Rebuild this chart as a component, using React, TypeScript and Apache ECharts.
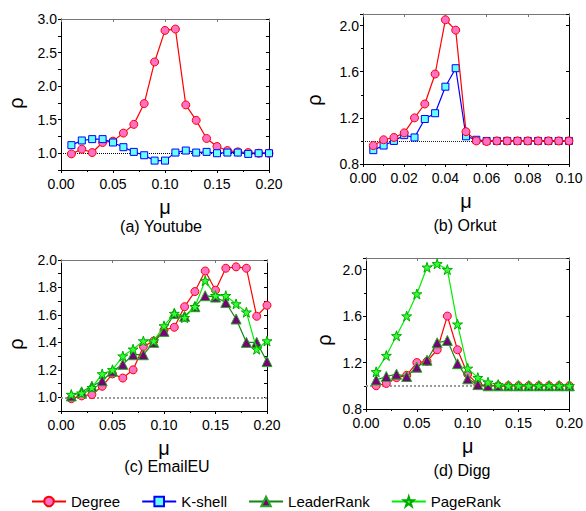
import React, { useEffect, useRef } from "react";
import * as echarts from "echarts";

// ---------- data ----------
const muStd = [0.01, 0.02, 0.03, 0.04, 0.05, 0.06, 0.07, 0.08, 0.09, 0.1, 0.11, 0.12, 0.13, 0.14, 0.15, 0.16, 0.17, 0.18, 0.19, 0.2];
const muOrkut = [0.005, 0.01, 0.015, 0.02, 0.025, 0.03, 0.035, 0.04, 0.045, 0.05, 0.055, 0.06, 0.065, 0.07, 0.075, 0.08, 0.085, 0.09, 0.095, 0.1];

const youtubeDegree = [0.99, 1.06, 1.01, 1.16, 1.18, 1.3, 1.43, 1.74, 2.36, 2.83, 2.85, 1.72, 1.49, 1.22, 1.1, 1.04, 1.02, 1.01, 1.0, 1.0];
const youtubeKshell = [1.12, 1.19, 1.21, 1.21, 1.16, 1.09, 1.02, 0.97, 0.89, 0.89, 1.01, 1.04, 1.01, 1.02, 1.0, 1.01, 1.01, 0.99, 1.0, 1.0];

const orkutDegree = [0.96, 1.01, 1.03, 1.07, 1.2, 1.32, 1.58, 2.05, 1.96, 1.08, 1.0, 0.995, 1.0, 1.0, 1.0, 1.0, 1.0, 1.0, 1.0, 1.0];
const orkutKshell = [0.92, 0.96, 1.0, 1.05, 1.03, 1.19, 1.24, 1.47, 1.63, 1.04, 1.01, 1.0, 1.0, 1.0, 1.0, 1.0, 1.0, 1.0, 1.0, 1.0];

const emailDegree = [0.99, 1.01, 1.02, 1.08, 1.17, 1.14, 1.2, 1.37, 1.41, 1.49, 1.51, 1.66, 1.77, 1.92, 1.78, 1.94, 1.95, 1.94, 1.59, 1.67];
const emailLeader = [1.01, 1.04, 1.08, 1.12, 1.19, 1.24, 1.31, 1.31, 1.4, 1.48, 1.61, 1.59, 1.66, 1.74, 1.73, 1.69, 1.57, 1.4, 1.4, 1.26];
const emailPage = [1.02, 1.03, 1.07, 1.17, 1.2, 1.3, 1.35, 1.41, 1.41, 1.52, 1.61, 1.58, 1.66, 1.85, 1.74, 1.74, 1.68, 1.62, 1.35, 1.41];

const diggDegree = [1.0, 1.02, 1.07, 1.09, 1.2, 1.21, 1.31, 1.6, 1.31, 1.1, 1.01, 1.0, 1.0, 1.0, 1.0, 1.0, 1.0, 1.0, 1.0, 1.0];
const diggLeader = [1.05, 1.08, 1.1, 1.08, 1.16, 1.22, 1.37, 1.39, 1.19, 1.06, 1.01, 1.0, 1.0, 1.0, 1.0, 1.0, 1.0, 1.0, 1.0, 1.0];
const diggPage = [1.12, 1.26, 1.43, 1.6, 1.79, 2.02, 2.05, 2.0, 1.53, 1.15, 1.07, 1.03, 1.01, 1.0, 1.0, 1.0, 1.0, 1.0, 1.0, 1.0];

const seriesNames = ["Degree", "K-shell", "LeaderRank", "PageRank"];
const panelTitles = ["(a) Youtube", "(b) Orkut", "(c) EmailEU", "(d) Digg"];

// ---------- styling ----------
const FONT = "Liberation Sans, Arial, sans-serif";
const STAR =
  "path://M0,-1L0.2245,-0.309L0.951,-0.309L0.363,0.118L0.588,0.809L0,0.382L-0.588,0.809L-0.363,0.118L-0.951,-0.309L-0.2245,-0.309Z";

const STYLE: Record<string, any> = {
  Degree: { symbol: "circle", size: 8, line: "#ff0000", fill: "#ff70c8", border: "#ff0000" },
  "K-shell": { symbol: "rect", size: 7, line: "#0000ff", fill: "#66ffff", border: "#0000ff" },
  LeaderRank: { symbol: "triangle", size: 10, line: "#118811", fill: "#7a007a", border: "#22aa22" },
  PageRank: { symbol: STAR, size: 10, line: "#00ee00", fill: "#33ff33", border: "#00aa00" },
};

type Panel = {
  grid: { left: number; top: number; width: number; height: number };
  xMin: number; xMax: number; xStep: number;
  yMin: number; yMax: number; yStep: number; yLabelBase: number; yLabelStep: number;
  yMinor: boolean;
  rho: { x: number; y: number };
  refColor: string; refWidth: number;
  title: { x: number; y: number };
  series: { name: string; xs: number[]; ys: number[] }[];
};

const panels: Panel[] = [
  {
    grid: { left: 61, top: 19, width: 208, height: 151 },
    xMin: 0, xMax: 0.2, xStep: 0.05,
    yMin: 0.75, yMax: 3.0, yStep: 0.25, yLabelBase: 1.0, yLabelStep: 0.5, yMinor: false,
    rho: { x: 16, y: 103 },
    refColor: "#000", refWidth: 1,
    title: { x: 161, y: 226 },
    series: [
      { name: "Degree", xs: muStd, ys: youtubeDegree },
      { name: "K-shell", xs: muStd, ys: youtubeKshell },
    ],
  },
  {
    grid: { left: 363, top: 14, width: 206, height: 150 },
    xMin: 0, xMax: 0.1, xStep: 0.02,
    yMin: 0.8, yMax: 2.1, yStep: 0.4, yLabelBase: 0.8, yLabelStep: 0.4, yMinor: true,
    rho: { x: 314, y: 100 },
    refColor: "#222", refWidth: 1,
    title: { x: 465, y: 225 },
    series: [
      { name: "K-shell", xs: muOrkut, ys: orkutKshell },
      { name: "Degree", xs: muOrkut, ys: orkutDegree },
    ],
  },
  {
    grid: { left: 61, top: 260, width: 206, height: 151 },
    xMin: 0, xMax: 0.2, xStep: 0.05,
    yMin: 0.9, yMax: 2.0, yStep: 0.1, yLabelBase: 1.0, yLabelStep: 0.2, yMinor: false,
    rho: { x: 16, y: 344 },
    refColor: "#999", refWidth: 2,
    title: { x: 167, y: 466 },
    series: [
      { name: "Degree", xs: muStd, ys: emailDegree },
      { name: "LeaderRank", xs: muStd, ys: emailLeader },
      { name: "PageRank", xs: muStd, ys: emailPage },
    ],
  },
  {
    grid: { left: 366, top: 258, width: 207, height: 151 },
    xMin: 0, xMax: 0.2, xStep: 0.05,
    yMin: 0.8, yMax: 2.1, yStep: 0.4, yLabelBase: 0.8, yLabelStep: 0.4, yMinor: true,
    rho: { x: 324, y: 340 },
    refColor: "#999", refWidth: 2,
    title: { x: 462, y: 470 },
    series: [
      { name: "Degree", xs: muStd, ys: diggDegree },
      { name: "LeaderRank", xs: muStd, ys: diggLeader },
      { name: "PageRank", xs: muStd, ys: diggPage },
    ],
  },
];

function isMultiple(v: number, step: number) {
  const r = v / step;
  return Math.abs(r - Math.round(r)) < 1e-6;
}

function buildOption() {
  const grid: any[] = [];
  const xAxis: any[] = [];
  const yAxis: any[] = [];
  const series: any[] = [];
  const graphic: any[] = [];

  panels.forEach((p, i) => {
    grid.push({ ...p.grid, containLabel: false });
    const tickStyle = { color: "#000", width: 1 };
    xAxis.push({
      type: "value", gridIndex: i, position: "bottom",
      min: p.xMin, max: p.xMax, interval: p.xStep,
      axisLine: { show: true, onZero: false, lineStyle: { color: "#000", width: 1 } },
      axisTick: { show: true, inside: false, length: 3, lineStyle: tickStyle },
      minorTick: { show: true, splitNumber: 2, length: 2, lineStyle: tickStyle },
      splitLine: { show: false },
      axisLabel: {
        show: true, showMinLabel: true, showMaxLabel: true, margin: 7,
        fontSize: 14, lineHeight: 14, fontFamily: FONT, color: "#000",
        formatter: (v: number) => v.toFixed(2),
      },
      name: "μ", nameLocation: "middle", nameGap: 27,
      nameTextStyle: { fontSize: 20, fontFamily: FONT, color: "#000" },
    });
    xAxis.push({
      type: "value", gridIndex: i, position: "top",
      min: p.xMin, max: p.xMax, interval: p.xStep,
      axisLine: { show: true, onZero: false, lineStyle: { color: "#777", width: 1 } },
      axisTick: { show: true, inside: true, length: 3, lineStyle: { color: "#777" } },
      axisLabel: { show: false },
      splitLine: { show: false },
    });
    yAxis.push({
      type: "value", gridIndex: i, position: "left",
      min: p.yMin, max: p.yMax, interval: p.yStep,
      axisLine: { show: true, onZero: false, lineStyle: { color: "#000", width: 1 } },
      axisTick: { show: true, inside: false, length: 3, lineStyle: tickStyle },
      minorTick: { show: p.yMinor, splitNumber: 2, length: 2, lineStyle: tickStyle },
      splitLine: { show: false },
      axisLabel: {
        show: true, showMinLabel: true, showMaxLabel: true, margin: 4, fontSize: 14, lineHeight: 14, fontFamily: FONT, color: "#000",
        formatter: (v: number) => (v >= p.yLabelBase - 1e-9 && isMultiple(v - p.yLabelBase, p.yLabelStep) ? v.toFixed(1) : ""),
      },
    });
    yAxis.push({
      type: "value", gridIndex: i, position: "right",
      min: p.yMin, max: p.yMax, interval: p.yStep,
      axisLine: { show: true, onZero: false, lineStyle: { color: "#000", width: 1 } },
      axisTick: { show: true, inside: true, length: 3, lineStyle: tickStyle },
      axisLabel: { show: false },
      splitLine: { show: false },
    });

    p.series.forEach((s, k) => {
      const st = STYLE[s.name];
      const ser: any = {
        type: "line", name: s.name,
        xAxisIndex: i * 2, yAxisIndex: i * 2,
        data: s.xs.map((x, j) => [x, s.ys[j]]),
        symbol: st.symbol, symbolSize: st.size, showAllSymbol: true,
        lineStyle: { color: st.line, width: 1.2 },
        itemStyle: { color: st.fill, borderColor: st.border, borderWidth: 1 },
        clip: false, z: 3 + k,
      };
      if (k === 0) {
        ser.markLine = {
          silent: true, symbol: ["none", "none"], label: { show: false },
          lineStyle: { color: p.refColor, width: p.refWidth, type: "dotted" },
          data: [{ yAxis: 1 }], z: 1,
        };
      }
      series.push(ser);
    });

    graphic.push({
      type: "text", x: p.title.x, y: p.title.y,
      style: { text: panelTitles[i], align: "center", verticalAlign: "middle", fontSize: 16, fontFamily: FONT, fill: "#000" },
    });
    graphic.push({
      type: "text", x: p.rho.x, y: p.rho.y, rotation: Math.PI / 2,
      style: { text: "ρ", align: "center", verticalAlign: "middle", fontSize: 20, fontFamily: FONT, fill: "#000" },
    });
  });

  return {
    animation: false,
    backgroundColor: "#fff",
    grid, xAxis, yAxis, series, graphic,
    legend: {
      data: seriesNames, left: 31, top: 494, padding: 0, orient: "horizontal",
      itemWidth: 34, itemHeight: 12, itemGap: 21,
      textStyle: { fontSize: 15, fontFamily: FONT, color: "#000" },
    },
  };
}

export default function App() {
  const ref = useRef<HTMLDivElement>(null);
  useEffect(() => {
    if (!ref.current) return;
    const chart = echarts.init(ref.current, null, { renderer: "svg" });
    chart.setOption(buildOption() as any);
    return () => chart.dispose();
  }, []);
  return <div ref={ref} style={{ position: "absolute", left: 0, top: 0, width: 586, height: 511 }} />;
}
